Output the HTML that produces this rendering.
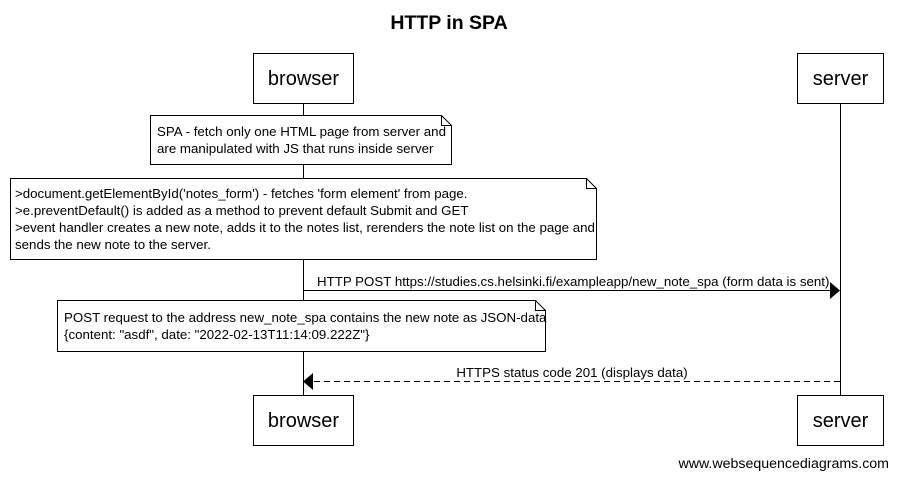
<!DOCTYPE html>
<html><head><meta charset="utf-8"><style>
html,body{margin:0;padding:0;background:#fff;}
svg{display:block;font-family:"Liberation Sans",Arial,sans-serif;}
</style></head><body>
<svg width="898" height="479" viewBox="0 0 898 479" xmlns="http://www.w3.org/2000/svg">
<text x="449" y="29" text-anchor="middle" font-size="19.5" font-weight="bold">HTTP in SPA</text>
<g stroke="#000" stroke-width="1" fill="none">
<line x1="303.5" y1="103" x2="303.5" y2="395"/>
<line x1="840.5" y1="103" x2="840.5" y2="395"/>
<rect x="253.5" y="53.5" width="100" height="50" fill="#fff"/>
<rect x="797.5" y="53.5" width="86" height="50" fill="#fff"/>
<rect x="253.5" y="395.5" width="100" height="50" fill="#fff"/>
<rect x="797.5" y="395.5" width="86" height="50" fill="#fff"/>
<path d="M150.5 115.5 H441.5 L451.5 125.5 V164.5 H150.5 Z" fill="#fff"/>
<path d="M441.5 115.5 V125.5 H451.5"/>
<path d="M10.5 178.5 H586.5 L596.5 188.5 V259.5 H10.5 Z" fill="#fff"/>
<path d="M586.5 178.5 V188.5 H596.5"/>
<path d="M57.5 300.5 H535.5 L545.5 310.5 V351.5 H57.5 Z" fill="#fff"/>
<path d="M535.5 300.5 V310.5 H545.5"/>
<line x1="303" y1="290.5" x2="830" y2="290.5"/>
<line x1="314" y1="381.5" x2="840" y2="381.5" stroke-dasharray="6,4"/>
</g>
<polygon points="830,282 840,290.5 830,299" fill="#000"/>
<polygon points="313,373 303,381.5 313,390" fill="#000"/>
<g font-size="20" text-anchor="middle">
<text x="303.5" y="85">browser</text>
<text x="840.5" y="85">server</text>
<text x="303.5" y="427">browser</text>
<text x="840.5" y="427">server</text>
</g>
<g font-size="13.3">
<text x="157" y="136">SPA - fetch only one HTML page from server and</text>
<text x="157" y="153">are manipulated with JS that runs inside server</text>
<text x="15" y="198">&gt;document.getElementById('notes_form') - fetches 'form element' from page.</text>
<text x="15" y="215">&gt;e.preventDefault() is added as a method to prevent default Submit and GET</text>
<text x="15" y="232">&gt;event handler creates a new note, adds it to the notes list, rerenders the note list on the page and</text>
<text x="15" y="249">sends the new note to the server.</text>
<text x="317" y="286">HTTP POST https://studies.cs.helsinki.fi/exampleapp/new_note_spa (form data is sent)</text>
<text x="64" y="322">POST request to the address new_note_spa contains the new note as JSON-data</text>
<text x="64" y="339">{content: "asdf", date: "2022-02-13T11:14:09.222Z"}</text>
<text x="572" y="377" text-anchor="middle">HTTPS status code 201 (displays data)</text>
<text x="889" y="468" text-anchor="end" font-size="14.2">www.websequencediagrams.com</text>
</g>
</svg>
</body></html>
